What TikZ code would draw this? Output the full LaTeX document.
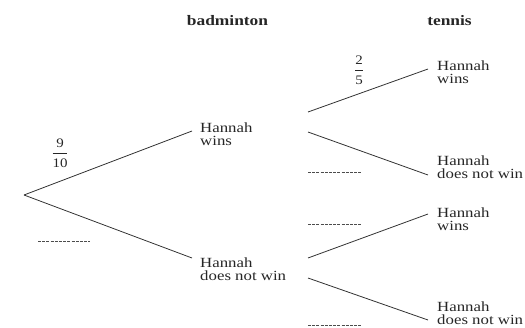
\documentclass[tikz,border=0pt]{standalone}
\usepackage{fontspec}
\setmainfont{Liberation Serif}
\begin{document}
\begin{tikzpicture}[x=1pt,y=-1pt,
  lbl/.style={anchor=north west,inner sep=0pt,align=left,text=black!85,
    font=\fontsize{14}{13.5}\selectfont,xscale=1.2,transform shape},
  head/.style={anchor=base,inner sep=0pt,text=black!85,
    font=\fontsize{14.5}{16}\selectfont\bfseries,xscale=1.2,transform shape},
  frac/.style={inner sep=0pt,text=black!85,font=\fontsize{13}{15}\selectfont,xscale=1.15,transform shape},
  branch/.style={draw=black!80,line width=0.8pt},
  blank/.style={draw=black!70,line width=0.7pt,dash pattern=on 3pt off 1.2pt}]
\useasboundingbox (0,0) rectangle (525,327);
% headings
\node[head] (hb) at (227.5,25) {badminton};
\node[head] (ht) at (449.5,25) {tennis};
% first stage
\coordinate (R) at (24,195);
\coordinate (B1) at (192,131);
\coordinate (B2) at (192,258);
\node[lbl] (lb1) at (200,122.4) {Hannah\\wins};
\node[lbl] (lb2) at (200,257.4) {Hannah\\does not win};
\draw[branch] (R) -- (B1);
\draw[branch] (R) -- (B2);
\node[frac] (f1) at (60,153.5) {$\displaystyle\frac{\mathrm{9}\rule[-4.5pt]{0pt}{4.5pt}}{\rule{0pt}{13pt}\mathrm{10}}$};
\coordinate (d0a) at (38,241); \coordinate (d0b) at (90,241);
\draw[blank] (d0a) -- (d0b);
% second stage
\coordinate (S1) at (308,112);
\coordinate (S2) at (308,132);
\coordinate (S3) at (308,258);
\coordinate (S4) at (308,278);
\coordinate (T1) at (428,69);
\coordinate (T2) at (428,175);
\coordinate (T3) at (428,214);
\coordinate (T4) at (428,320);
\draw[branch] (S1) -- (T1);
\draw[branch] (S2) -- (T2);
\draw[branch] (S3) -- (T3);
\draw[branch] (S4) -- (T4);
\node[lbl] (lt1) at (437,60.4) {Hannah\\wins};
\node[lbl] (lt2) at (437,155.4) {Hannah\\does not win};
\node[lbl] (lt3) at (437,207.4) {Hannah\\wins};
\node[lbl] (lt4) at (437,301.5) {Hannah\\does not win};
\node[frac] (f2) at (359,70) {$\displaystyle\frac{\mathrm{2}\rule[-4.5pt]{0pt}{4.5pt}}{\rule{0pt}{13pt}\mathrm{5}}$};
\coordinate (d1a) at (308,172); \coordinate (d1b) at (362,172);
\coordinate (d2a) at (308,224); \coordinate (d2b) at (362,224);
\coordinate (d3a) at (308,325); \coordinate (d3b) at (362,325);
\draw[blank] (d1a) -- (d1b);
\draw[blank] (d2a) -- (d2b);
\draw[blank] (d3a) -- (d3b);
\end{tikzpicture}
\end{document}
